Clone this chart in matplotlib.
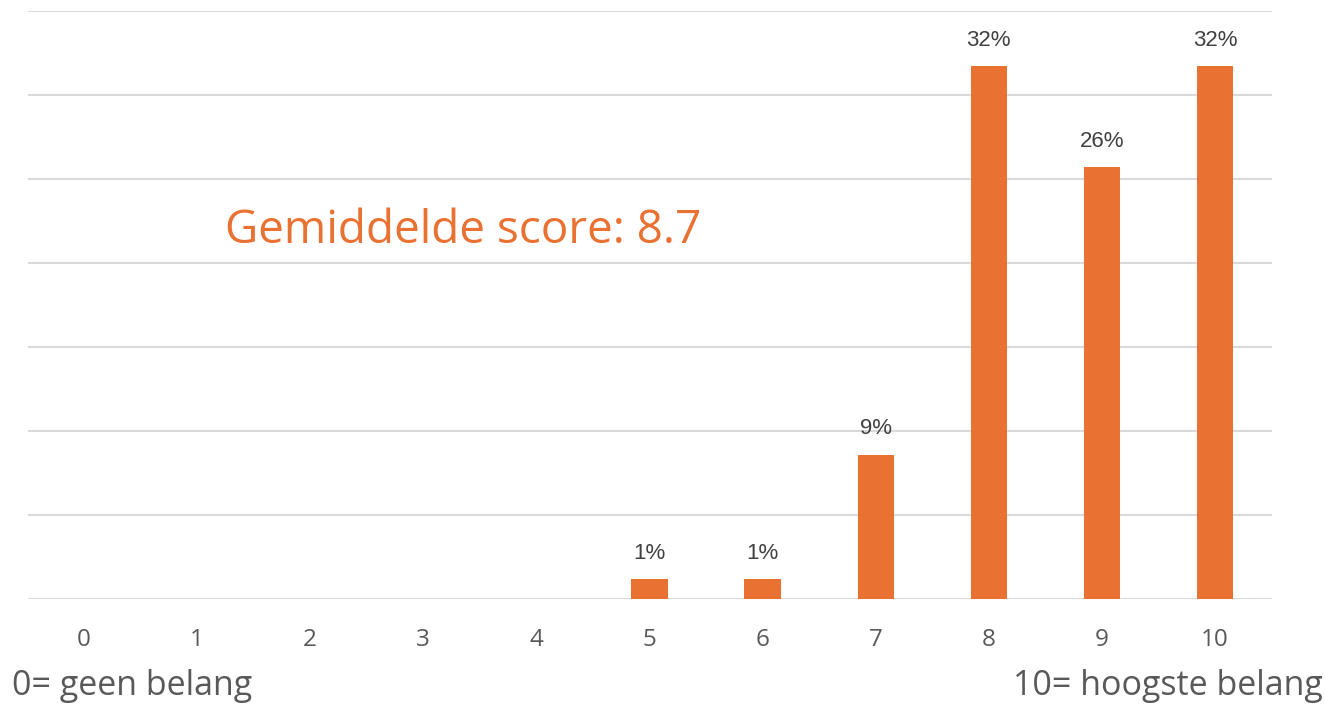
import matplotlib.pyplot as plt

scores = [0, 1, 2, 3, 4, 5, 6, 7, 8, 9, 10]
percent = [0, 0, 0, 0, 0, 1.2, 1.2, 8.6, 31.7, 25.7, 31.7]
bar_labels = ["", "", "", "", "", "1%", "1%", "9%", "32%", "26%", "32%"]
mean_text = "Gemiddelde score: 8.7"
left_note = "0= geen belang"
right_note = "10= hoogste belang"

orange = "#E97132"
grey = "#595959"

fig = plt.figure(figsize=(13.25, 7.12), dpi=100)
ax = fig.add_axes([27.5 / 1325, 1 - 599 / 712, 1244 / 1325, 588 / 712])

bars = ax.bar(scores, percent, width=0.32, color=orange, zorder=3)
ax.bar_label(bars, labels=bar_labels, padding=11, fontsize=16,
             color="#404040", family="Liberation Sans")

ax.set_xlim(-0.5, 10.5)
ax.set_ylim(0, 35)
ax.set_yticks(range(0, 36, 5))
ax.yaxis.grid(True, color="#D9D9D9", linewidth=1.5, zorder=0)
ax.set_yticklabels([])
ax.tick_params(axis="y", length=0)
ax.set_xticks(scores)
ax.set_xticklabels([str(s) for s in scores], fontsize=17.5, color=grey,
                   family="Open Sans")
ax.tick_params(axis="x", length=0, pad=21)
for s in ax.spines.values():
    s.set_visible(False)

fig.text(225 / 1325, 1 - 243 / 712, mean_text, fontsize=33, color=orange,
         family="Open Sans", va="baseline")
fig.text(12 / 1325, 1 - 695 / 712, left_note, fontsize=24.5, color=grey,
         family="Open Sans", va="baseline")
fig.text(1323 / 1325, 1 - 695 / 712, right_note, fontsize=24.5, color=grey,
         family="Open Sans", va="baseline", ha="right")

fig.savefig("out.png", dpi=100)
